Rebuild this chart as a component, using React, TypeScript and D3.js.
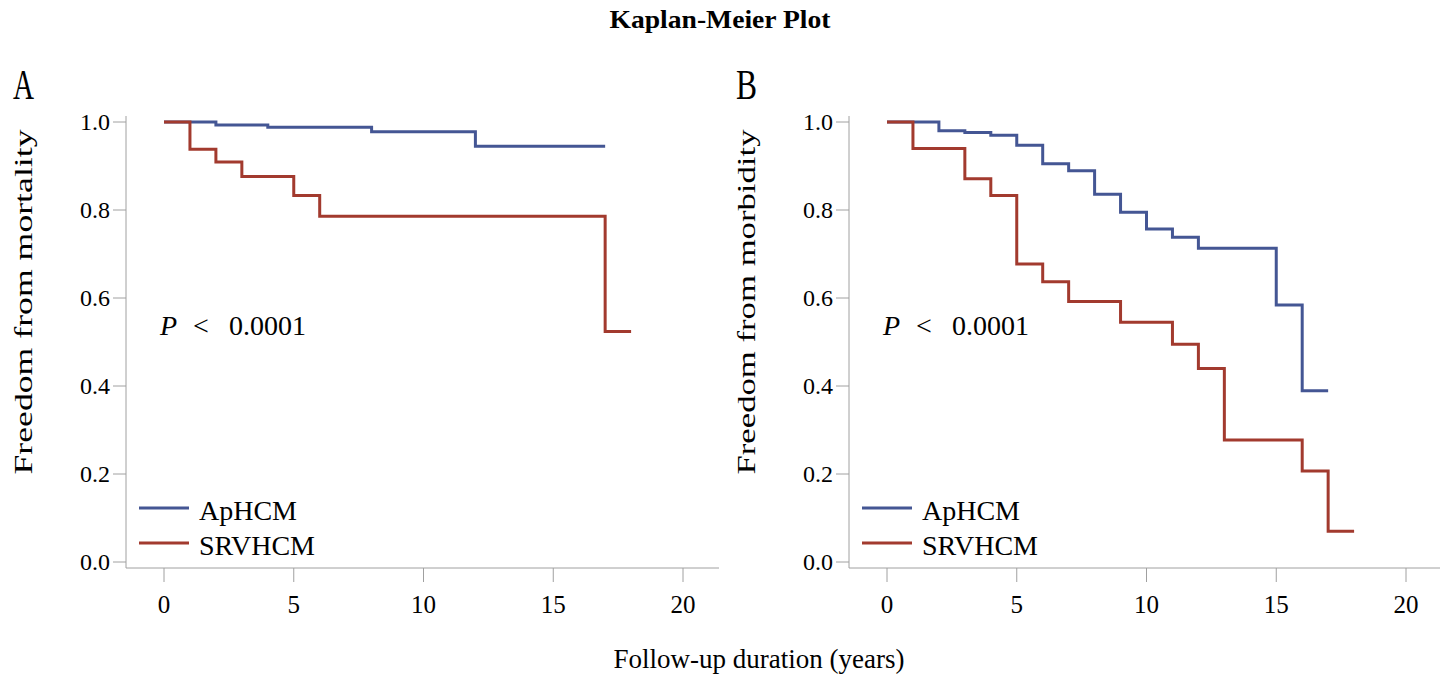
import * as d3 from "d3";
import { useEffect, useRef } from "react";

const TITLE = "Kaplan-Meier Plot";
const X_TITLE = "Follow-up duration (years)";
const SERIES_NAMES = ["ApHCM", "SRVHCM"];
const COLORS = ["#445694", "#A23A2E"];
const X_TICKS = [0, 5, 10, 15, 20];
const Y_TICKS = [0, 0.2, 0.4, 0.6, 0.8, 1.0];

// Panel A – mortality
const A_APHCM_T = [0, 2, 4, 8, 12, 17];
const A_APHCM_S = [1, 0.993, 0.988, 0.978, 0.945, 0.945];
const A_SRV_T = [0, 1, 2, 3, 5, 6, 17, 18];
const A_SRV_S = [1, 0.938, 0.909, 0.876, 0.833, 0.786, 0.524, 0.524];

// Panel B – morbidity
const B_APHCM_T = [0, 2, 3, 4, 5, 6, 7, 8, 9, 10, 11, 12, 15, 16, 17];
const B_APHCM_S = [1, 0.98, 0.976, 0.97, 0.947, 0.905, 0.889, 0.836, 0.795, 0.757, 0.738, 0.713, 0.584, 0.389, 0.389];
const B_SRV_T = [0, 1, 3, 4, 5, 6, 7, 9, 11, 12, 13, 16, 17, 18];
const B_SRV_S = [1, 0.94, 0.871, 0.833, 0.677, 0.637, 0.592, 0.545, 0.495, 0.44, 0.277, 0.207, 0.07, 0.07];

const PANELS = [
  { label: "A", yTitle: "Freedom from mortality", series: [[A_APHCM_T, A_APHCM_S], [A_SRV_T, A_SRV_S]], left: 126 },
  { label: "B", yTitle: "Freedom from morbidity", series: [[B_APHCM_T, B_APHCM_S], [B_SRV_T, B_SRV_S]], left: 849 },
];

const W = 1443;
const H = 676;
const FONT = "'Liberation Serif', 'Times New Roman', serif";
const AXIS = "#a0a0a0";

export default function App() {
  const ref = useRef<SVGSVGElement>(null);

  useEffect(() => {
    const svg = d3.select(ref.current);
    svg.selectAll("*").remove();

    svg.append("rect").attr("width", W).attr("height", H).attr("fill", "#fff");

    svg.append("text")
      .attr("x", 720).attr("y", 28)
      .attr("text-anchor", "middle")
      .attr("textLength", 221).attr("lengthAdjust", "spacingAndGlyphs")
      .style("font-family", FONT).style("font-weight", "bold").style("font-size", "26px")
      .text(TITLE);

    svg.append("text")
      .attr("x", 759).attr("y", 668)
      .attr("text-anchor", "middle")
      .style("font-family", FONT).style("font-size", "27px")
      .text(X_TITLE);

    PANELS.forEach((p) => {
      const L = p.left;
      const x = d3.scaleLinear().domain([0, 20]).range([L + 38, L + 557]);
      const y = d3.scaleLinear().domain([0, 1]).range([562, 122]);
      const bottom = 568;
      const g = svg.append("g");

      // panel letter
      g.append("text")
        .attr("x", L - 113).attr("y", 99)
        .attr("textLength", 21).attr("lengthAdjust", "spacingAndGlyphs")
        .style("font-family", FONT).style("font-size", "42px")
        .text(p.label);

      // axis lines
      g.append("line").attr("x1", L).attr("x2", L).attr("y1", 116).attr("y2", bottom)
        .attr("stroke", AXIS);
      g.append("line").attr("x1", L).attr("x2", Math.min(L + 593, 1440)).attr("y1", bottom).attr("y2", bottom)
        .attr("stroke", AXIS);

      // y ticks
      g.selectAll(".yt").data(Y_TICKS).enter().append("line")
        .attr("x1", L - 13).attr("x2", L)
        .attr("y1", (d) => y(d)).attr("y2", (d) => y(d))
        .attr("stroke", AXIS);
      g.selectAll(".yl").data(Y_TICKS).enter().append("text")
        .attr("x", L - 16).attr("y", (d) => y(d)).attr("dy", "0.35em")
        .attr("text-anchor", "end")
        .style("font-family", FONT).style("font-size", "24px")
        .text((d) => d3.format(".1f")(d));

      // x ticks
      g.selectAll(".xt").data(X_TICKS).enter().append("line")
        .attr("x1", (d) => x(d)).attr("x2", (d) => x(d))
        .attr("y1", bottom).attr("y2", bottom + 14)
        .attr("stroke", AXIS);
      g.selectAll(".xl").data(X_TICKS).enter().append("text")
        .attr("x", (d) => x(d)).attr("y", 613)
        .attr("text-anchor", "middle")
        .style("font-family", FONT).style("font-size", "25px")
        .text((d) => d);

      // y title (reference glyphs run wider than Times, so stretch)
      g.append("text")
        .attr("transform", `translate(${L - 94},302) rotate(-90)`)
        .attr("text-anchor", "middle")
        .attr("textLength", 345).attr("lengthAdjust", "spacingAndGlyphs")
        .style("font-family", FONT).style("font-size", "25px")
        .text(p.yTitle);

      // curves
      const line = d3.line<[number, number]>()
        .x((d) => x(d[0])).y((d) => y(d[1]))
        .curve(d3.curveStepAfter);
      p.series.forEach(([ts, ss], i) => {
        const pts = ts.map((t, k) => [t, ss[k]] as [number, number]);
        g.append("path")
          .attr("d", line(pts))
          .attr("fill", "none")
          .attr("stroke", COLORS[i])
          .attr("stroke-width", 3);
      });

      // P value
      const pt = g.append("text")
        .attr("x", x(0) - 4).attr("y", 335)
        .style("font-family", FONT).style("font-size", "28px");
      pt.append("tspan").style("font-style", "italic").text("P");
      pt.append("tspan").attr("dx", 16).text("<");
      pt.append("tspan").attr("dx", 20).text("0.0001");

      // legend
      SERIES_NAMES.forEach((name, i) => {
        const ly = 508 + i * 35;
        g.append("line")
          .attr("x1", L + 13).attr("x2", L + 63)
          .attr("y1", ly).attr("y2", ly)
          .attr("stroke", COLORS[i]).attr("stroke-width", 3);
        g.append("text")
          .attr("x", L + 73).attr("y", ly + 2).attr("dy", "0.35em")
          .style("font-family", FONT).style("font-size", "28px")
          .text(name);
      });
    });
  }, []);

  return (
    <svg ref={ref} width={W} height={H}
      style={{ position: "absolute", left: 0, top: 0, display: "block" }} />
  );
}
